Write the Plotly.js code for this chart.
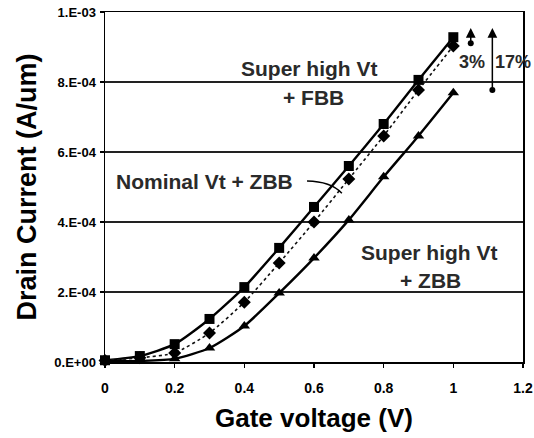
<!DOCTYPE html>
<html>
<head>
<meta charset="utf-8">
<script src="https://cdn.plot.ly/plotly-3.0.1.min.js"></script>
<style>html,body{margin:0;padding:0;background:#fff;}#chart{width:534px;height:438px;}</style>
</head>
<body>
<div id="chart"></div>
<script>
// Gate voltage (V)
const gateVoltage = [0, 0.1, 0.2, 0.3, 0.4, 0.5, 0.6, 0.7, 0.8, 0.9, 1.0];
// Drain current (A/um)
const superHighFBB = [0.000005, 0.000017, 0.000051, 0.000123, 0.000214, 0.000326, 0.000443, 0.000560, 0.000680, 0.000806, 0.000928];
const nominalZBB   = [0.000004, 0.000012, 0.000026, 0.000083, 0.000171, 0.000283, 0.000400, 0.000523, 0.000646, 0.000777, 0.000903];
const superHighZBB = [0.000002, 0.000003, 0.000009, 0.000040, 0.000103, 0.000197, 0.000297, 0.000406, 0.000529, 0.000646, 0.000769];
const yTickVals = [0, 0.0002, 0.0004, 0.0006, 0.0008, 0.001];
const yTickText = ['0.E+00', '2.E-04', '4.E-04', '6.E-04', '8.E-04', '1.E-03'];
const xTickVals = [0, 0.2, 0.4, 0.6, 0.8, 1, 1.2];
const xTickText = ['0', '0.2', '0.4', '0.6', '0.8', '1', '1.2'];
const labelFBB = ['Super high Vt', '+ FBB'];
const labelNom = 'Nominal Vt + ZBB';
const labelZBB = ['Super high Vt', '+ ZBB'];
const labelSmall = '3%';
const labelBig = '17%';

const FONT = 'Liberation Sans, Arial, sans-serif';
const last = gateVoltage.length - 1;
const arrowTop = 0.000954;
const arrowX1 = 1.05, arrowX2 = 1.112;

const traces = [
  {x: gateVoltage, y: superHighFBB, mode: 'lines+markers', cliponaxis: false,
   line: {color: '#000', width: 2.4, shape: 'spline', smoothing: 0.6},
   marker: {symbol: 'square', size: 10, color: '#000'}},
  {x: gateVoltage, y: nominalZBB, mode: 'lines+markers', cliponaxis: false,
   line: {color: '#111', width: 1.6, dash: 'dot', shape: 'spline', smoothing: 0.6},
   marker: {symbol: 'diamond', size: 10, color: '#000'}},
  {x: gateVoltage, y: superHighZBB, mode: 'lines+markers', cliponaxis: false,
   line: {color: '#000', width: 2.4, shape: 'spline', smoothing: 0.6},
   marker: {symbol: 'triangle-up', size: 10, color: '#000'}},
  {x: [arrowX1, arrowX2], y: [nominalZBB[last] + 0.000008, superHighZBB[last] + 0.000008],
   mode: 'markers', cliponaxis: false, marker: {symbol: 'circle', size: 6, color: '#000'}}
];

const annFont = {family: FONT, size: 21, color: '#2a2a2a', weight: 'bold'};
const pctFont = {family: FONT, size: 18, color: '#2a2a2a', weight: 'bold'};
const layout = {
  width: 534, height: 438,
  margin: {l: 105, r: 11, t: 12, b: 76},
  paper_bgcolor: '#fff', plot_bgcolor: '#fff',
  showlegend: false,
  font: {family: FONT, color: '#000'},
  xaxis: {
    range: [0, 1.2], tickvals: xTickVals, ticktext: xTickText,
    ticks: 'outside', ticklen: 4, tickcolor: '#000', tickwidth: 1.5,
    ticklabelstandoff: 9,
    showgrid: false, zeroline: false,
    showline: true, linecolor: '#000', linewidth: 1.5, mirror: true,
    tickfont: {family: FONT, size: 14, color: '#000', weight: 'bold'},
    title: {text: 'Gate voltage (V)', font: {family: FONT, size: 26, color: '#000', weight: 'bold'}, standoff: 13}
  },
  yaxis: {
    range: [0, 0.001], tickvals: yTickVals, ticktext: yTickText,
    ticks: 'outside', ticklen: 4, tickcolor: '#000', tickwidth: 1.5,
    ticklabelstandoff: 1,
    showgrid: true, gridcolor: '#222', gridwidth: 1.2, zeroline: false,
    showline: true, linecolor: '#000', linewidth: 1.5, mirror: true,
    tickfont: {family: FONT, size: 13, color: '#000', weight: 'bold'},
    title: {text: 'Drain Current (A/um)', font: {family: FONT, size: 27, color: '#000', weight: 'bold'}, standoff: 10}
  },
  shapes: [
    {type: 'path', xref: 'x', yref: 'y',
     path: 'M 0.58,0.000517 Q 0.648,0.000516 0.68,0.000482',
     line: {color: '#000', width: 1.5}}
  ],
  annotations: [
    {x: 0.588, y: 0.000840, xref: 'x', yref: 'y', text: labelFBB[0], showarrow: false, font: annFont},
    {x: 0.598, y: 0.000757, xref: 'x', yref: 'y', text: labelFBB[1], showarrow: false, font: annFont},
    {x: 0.286, y: 0.000515, xref: 'x', yref: 'y', text: labelNom, showarrow: false, font: annFont},
    {x: 0.932, y: 0.000312, xref: 'x', yref: 'y', text: labelZBB[0], showarrow: false, font: annFont},
    {x: 0.935, y: 0.000232, xref: 'x', yref: 'y', text: labelZBB[1], showarrow: false, font: annFont},
    {x: 1.053, y: 0.000857, xref: 'x', yref: 'y', text: labelSmall, showarrow: false, font: pctFont},
    {x: 1.172, y: 0.000857, xref: 'x', yref: 'y', text: labelBig, showarrow: false, font: pctFont},
    {x: arrowX1, y: arrowTop, ax: arrowX1, ay: nominalZBB[last] + 0.000008, xref: 'x', yref: 'y', axref: 'x', ayref: 'y',
     text: '', showarrow: true, arrowhead: 2, arrowsize: 1.3, arrowwidth: 1.5, arrowcolor: '#000'},
    {x: arrowX2, y: arrowTop, ax: arrowX2, ay: superHighZBB[last] + 0.000008, xref: 'x', yref: 'y', axref: 'x', ayref: 'y',
     text: '', showarrow: true, arrowhead: 2, arrowsize: 1.3, arrowwidth: 1.5, arrowcolor: '#000'}
  ]
};

Plotly.newPlot('chart', traces, layout, {displayModeBar: false, staticPlot: true});
</script>
</body>
</html>
